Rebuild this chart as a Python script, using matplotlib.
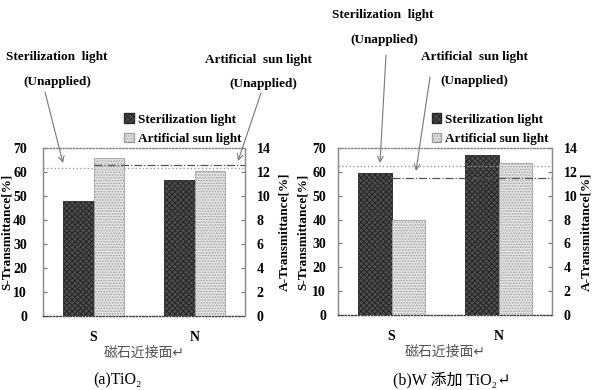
import matplotlib
matplotlib.use("Agg")
import matplotlib.pyplot as plt
import numpy as np
from matplotlib.patches import Patch

plt.rcParams['font.family'] = ['Liberation Serif', 'DejaVu Serif', 'Noto Sans CJK JP']
plt.rcParams['hatch.linewidth'] = 0.7

categories = ['S', 'N']
# (a) TiO2
ster_a = [48.0, 56.7]
art_a = [13.2, 12.1]
unapplied_ster_a = 61.5
unapplied_art_a = 12.6
# (b) W-doped TiO2
ster_b = [59.4, 67.2]
art_b = [7.95, 12.75]
unapplied_ster_b = 62.6
unapplied_art_b = 11.5

left_ticks = [0, 10, 20, 30, 40, 50, 60, 70]
right_ticks = [0, 2, 4, 6, 8, 10, 12, 14]

W, H = 596, 390
fig = plt.figure(figsize=(W / 100, H / 100), dpi=100)


def fx(x):
    return x / W


def fy(y):
    return 1 - y / H


BOLD = dict(fontweight='bold')
DARK = dict(facecolor='#4e4e4e', edgecolor='#262626', hatch='xxxxxx')
LIGHT = dict(facecolor='#e2e2e2', edgecolor='#a0a0a0', hatch='......')


def panel(rect, ster, art, un_s, un_a, width, lpad, rpad, lab_l, lab_r):
    ax = fig.add_axes(rect)
    ax2 = ax.twinx()
    x = np.arange(len(categories))
    ax.bar(x - width / 2, ster, width, linewidth=0.6, zorder=2, **DARK)
    ax2.bar(x + width / 2, art, width, linewidth=0.6, zorder=2, **LIGHT)
    ax.set_xlim(-0.5, 1.5)
    ax.set_ylim(0, 70)
    ax2.set_ylim(0, 14)
    ax.set_yticks(left_ticks)
    ax2.set_yticks(right_ticks)
    ax.set_xticks(x)
    ax.set_xticklabels(categories, fontsize=10, fontweight='bold')
    ax.tick_params(axis='x', length=0, pad=11)
    ax.tick_params(axis='y', pad=lpad)
    ax2.tick_params(axis='y', pad=rpad)
    for a in (ax, ax2):
        a.tick_params(axis='y', direction='in', length=3, color='#777777', labelsize=10)
        for lab in a.get_yticklabels():
            lab.set_fontweight('bold')
        for side, sp in a.spines.items():
            sp.set_color('#8a8a8a')
            sp.set_linewidth(0.9)
        a.spines['top'].set_linestyle(':')
        a.spines['bottom'].set_linestyle(':')
        a.spines['bottom'].set_color('#444444')
    ax.hlines(un_s, -0.5, 1.5, colors='#9a9a9a', linestyles=':', linewidth=1.0, zorder=3)
    ax2.hlines(un_a, 0, 1.5, colors='#555555', linestyles='-.', linewidth=0.9, zorder=3)
    ax.set_ylabel('S-Transmittance[%]', fontsize=9.5, fontweight='bold')
    ax2.set_ylabel('A-Transmittance[%]', fontsize=9.5, fontweight='bold')
    ax.yaxis.set_label_coords(lab_l, 0.5)
    ax2.yaxis.set_label_coords(lab_r, 0.5)
    ax.set_xlabel('磁石近接面↵', fontsize=10, color='#555555', labelpad=1,
                  family=['Noto Sans CJK JP', 'DejaVu Sans'])
    ax.legend(handles=[Patch(label='Sterilization light', **DARK),
                       Patch(label='Artificial sun light', **LIGHT)],
              loc='lower right', bbox_to_anchor=(1.02, 0.97), frameon=False,
              handlelength=0.7, handleheight=0.7, handletextpad=0.3, labelspacing=0.55,
              borderpad=0.1, prop=dict(weight='bold', size=9.5))
    return ax, ax2


panel([fx(43), fy(316), fx(245) - fx(43), fy(148) - fy(316)],
      ster_a, art_a, unapplied_ster_a, unapplied_art_a, 0.3, 11.5, 8.5, -0.15, 1.165)
panel([fx(338), fy(315), fx(552) - fx(338), fy(148) - fy(315)],
      ster_b, art_b, unapplied_ster_b, unapplied_art_b, 0.31, 8.5, 8.5, -0.136, 1.131)

arrow = dict(arrowstyle='->', color='#777777', lw=0.8, shrinkA=0, shrinkB=0)


def label_arrow(cx, ty, kind, ucx, uy, head_xy, tail_xy):
    txt = 'Sterilization  light' if kind == 's' else 'Artificial  sun light'
    fig.text(fx(cx), fy(ty), txt, ha='center', va='center', fontsize=9.5, **BOLD)
    fig.text(fx(ucx), fy(uy), '(Unapplied)', ha='center', va='center', fontsize=9.5, **BOLD)
    fig.add_artist(plt.Annotation('', xy=(fx(head_xy[0]), fy(head_xy[1])), xycoords='figure fraction',
                                  xytext=(fx(tail_xy[0]), fy(tail_xy[1])), textcoords='figure fraction',
                                  arrowprops=arrow))


label_arrow(57, 57, 's', 57, 82, (63, 163), (45, 92))
label_arrow(258, 60, 'a', 263, 84, (238, 161), (261, 93))
label_arrow(383, 15, 's', 384, 40, (380, 163), (386, 55))
label_arrow(474, 57, 'a', 474, 81, (416, 171), (430, 77))

fig.text(fx(118), fy(380), '(a)TiO₂', ha='center', va='center', fontsize=11.5)
fig.text(fx(452), fy(380), '(b)W 添加 TiO₂↵', ha='center', va='center', fontsize=11.5,
         family=['Liberation Serif', 'Noto Sans CJK JP', 'DejaVu Serif'])

fig.savefig('out.png', dpi=100)
